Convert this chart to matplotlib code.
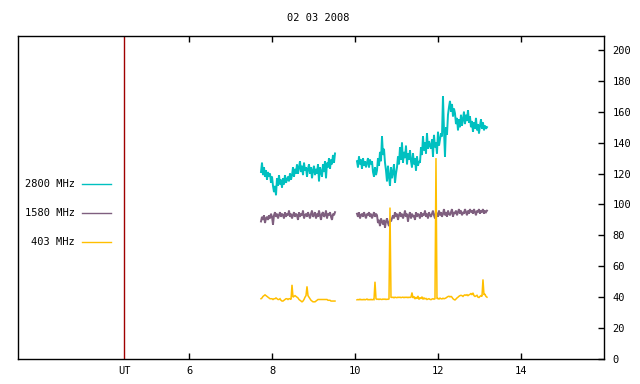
import numpy as np
import matplotlib
matplotlib.use("Agg")
import matplotlib.pyplot as plt
from matplotlib.lines import Line2D

title = "02 03 2008"
series_names = ["2800 MHz", "1580 MHz", "403 MHz"]
ut_time = 4.43
x_ticks = [6, 8, 10, 12, 14]
y_ticks = [0, 20, 40, 60, 80, 100, 120, 140, 160, 180, 200]

seg1_start, seg1_end = 7.728, 9.511
seg2_start, seg2_end = 10.041, 13.173

f2800_a = [121, 127, 119, 124, 118, 122, 116, 121, 118, 120, 114, 118, 112,
           108, 112, 106, 117, 112, 119, 113, 116, 111, 117, 113, 119, 114, 116, 118,
           115, 120, 116, 119, 124, 118, 123, 120,
           126, 120, 124, 128, 121, 125, 119, 127, 122,
           124, 118, 123, 126, 120, 124, 117, 122, 125, 119,
           123, 120, 126, 115, 124, 121, 118,
           126, 121, 128, 117, 127, 124, 130, 123,
           129, 126, 132, 127, 133]
f2800_b = [128, 124, 131, 126, 129, 123, 130, 125, 128, 124, 127, 130, 124, 129, 126, 128,
           121, 118, 124, 119, 122,
           130, 125, 134, 128, 144, 132, 136, 127,
           122, 115, 125, 118, 112, 124, 117, 121, 126, 114, 120, 124,
           131, 126, 137, 129, 140, 127, 134, 130, 138, 126, 133, 129, 135,
           128, 124, 133, 126, 130, 122, 131, 125, 128, 127,
           137, 132, 144, 135, 140, 133, 146, 136, 141, 138,
           136, 142, 131, 145, 137, 140, 133, 147, 138, 142,
           146, 144, 170, 148, 131, 150, 145,
           158, 163, 167, 160, 165, 157, 162, 159,
           152, 156, 148, 155, 150, 158, 151,
           155, 160, 152, 158, 154, 161, 153, 157,
           150, 154, 147, 153, 149, 156, 148, 152, 146, 151, 155, 149, 153, 148, 151, 149, 150]

f1580_a = [89, 92, 90, 93, 88, 91, 92, 90, 93, 91, 94, 92, 87, 93, 95, 92, 94, 91, 93, 95,
           92, 94, 93, 91, 95, 92, 94, 93, 96, 92, 94, 91, 93, 95, 92, 94, 93, 90, 95, 92,
           94, 93, 96, 91, 93, 94, 92, 95, 93, 91, 94, 96, 92, 93, 95, 91, 94, 92, 96, 93,
           90, 94, 95, 92, 93, 96, 91, 94, 93, 95, 92, 90, 94, 93, 95]
f1580_b = [94, 92, 95, 91, 93, 94, 92, 95, 93, 91, 94, 93, 95, 92, 94, 91, 93, 95, 92, 94, 93,
           88, 90, 86, 91, 89, 87, 90, 85, 89, 91, 88, 86, 90, 89, 91,
           93, 91, 95, 92, 94, 90, 93, 95, 92, 94, 91, 93, 96, 92, 94, 89, 93, 95, 91, 94,
           92, 93, 90, 95, 92, 94, 93, 91, 95, 92, 94, 93, 96, 92, 94, 91, 95, 93, 92, 94,
           96, 93, 91, 95, 94, 92, 96, 93, 95, 92, 94, 97, 93, 95, 92, 96, 94, 93, 95, 97,
           92, 95, 94, 96, 93, 95, 97, 94, 96, 93, 95, 94, 97, 95, 93, 96, 94, 97, 95, 96,
           94, 97, 95, 93, 96, 95, 97, 94, 96, 95, 97, 94, 96, 95, 96]

f403_a = [39, 39.5, 40.5, 41, 41.5, 41, 40.5, 40, 39.5, 39,
          39, 39, 38.5, 39, 39, 39.5, 39, 38.5, 38.5, 39,
          38, 37.5, 37.5, 38, 38.5, 39,
          39, 38.5, 39, 39, 38.5,
          48,
          40, 40.5, 41, 40.5, 40, 39.5, 38.5, 38, 37.5, 37, 37.5, 38.5, 40, 41,
          47,
          41, 40, 39, 38, 37.5, 37, 37, 37, 37.5, 38,
          38.5, 38.5, 38.5, 38.5, 38.5, 38.5, 38.5, 38.5, 38.5, 38.5, 38, 38, 38, 37.5,
          37.5, 37.5, 37.5, 37.5]
f403_b = [38.3, 38.5, 38.3, 38.7, 38.3, 38.5, 38.3, 38.6, 38.3, 38.5, 38.8, 38.3, 38.5,
          38.3, 38.6, 38.3, 38.5, 38.4,
          50,
          39, 38.6, 38.8, 38.5, 38.8, 38.6, 38.5, 38.8, 38.6, 38.8, 38.5, 38.7, 38.6, 38.9,
          98,
          40, 39.8, 40, 39.6, 40, 39.8, 39.7, 40, 39.8, 40, 39.7, 39.9, 40, 39.7, 40, 39.8,
          40, 39.7, 40, 39.8, 40,
          43,
          39.5, 40.5, 38.8, 40, 39, 40.8, 38.5, 39.8, 39, 40.3, 38.6, 39.5, 38.9, 39.2,
          38.5, 38.8, 39, 38.6, 38.4, 38.8, 39, 38.7, 39,
          130,
          39, 39.2, 38.8, 39.4, 39, 38.9, 39.3, 39, 39.2, 39.5, 40, 40.4, 40.6, 40.2, 40.5,
          40, 39, 38.5, 38.2,
          38.8, 39.5, 40, 40.6, 41, 41.2, 41, 40.5, 41.2, 41.5, 41.2, 41.6, 41, 41.5, 41.8,
          42.5, 41.5, 42.8, 41, 40.5, 40.8, 41.2, 40, 39.8, 40.5, 41, 40.5,
          51.5,
          41.5, 42, 40.5, 40]

colors = ["#00c0c0", "#7f5f7f", "#ffbf00"]
widths = [1.4, 1.4, 1.1]
ut_color = "#a00000"
font = "DejaVu Sans Mono"
fs = 7.5

fig = plt.figure(figsize=(6.4, 3.84), dpi=100)
L, R, B, T = 18.3, 604.3, 359, 36
ax = fig.add_axes([L / 640, (384 - B) / 384, (R - L) / 640, (B - T) / 384])

data = [(f2800_a, f2800_b), (f1580_a, f1580_b), (f403_a, f403_b)]
for (a, b), c, w in zip(data, colors, widths):
    ta = np.linspace(seg1_start, seg1_end, len(a))
    tb = np.linspace(seg2_start, seg2_end, len(b))
    ax.plot(ta, a, color=c, lw=w, solid_joinstyle="miter")
    ax.plot(tb, b, color=c, lw=w, solid_joinstyle="miter")

ax.axvline(ut_time, color=ut_color, lw=1.0)

ax.set_xlim(1.88, 16.0)
ax.set_ylim(0, 209)

ax.set_xticks([ut_time] + x_ticks)
ax.set_xticklabels(["UT"] + [str(v) for v in x_ticks], fontfamily=font, fontsize=fs)
ax.tick_params(axis="x", direction="in", length=4, width=1, top=True, bottom=True,
               labelbottom=True, pad=5)
ax.xaxis.get_major_ticks()[0].tick1line.set_visible(False)
ax.xaxis.get_major_ticks()[0].tick2line.set_visible(False)

ax.yaxis.tick_right()
ax.set_yticks(y_ticks)
ax.set_yticklabels([str(v) for v in y_ticks], fontfamily=font, fontsize=fs)
ax.tick_params(axis="y", direction="in", length=4, width=1, right=True, left=False, pad=6)

for s in ax.spines.values():
    s.set_linewidth(1.0)

fig.text(318 / 640, 1 - 18 / 384, title, ha="center", va="center",
         fontfamily=font, fontsize=fs)

leg_y = [184, 213, 242]
for name, c, py in zip(series_names, colors, leg_y):
    yf = 1 - py / 384
    fig.text(75 / 640, yf, name, ha="right", va="center", fontfamily=font, fontsize=fs)
    fig.add_artist(Line2D([82 / 640, 111 / 640], [yf, yf], color=c, lw=1.0,
                          transform=fig.transFigure))

fig.savefig("out.png", dpi=100)
